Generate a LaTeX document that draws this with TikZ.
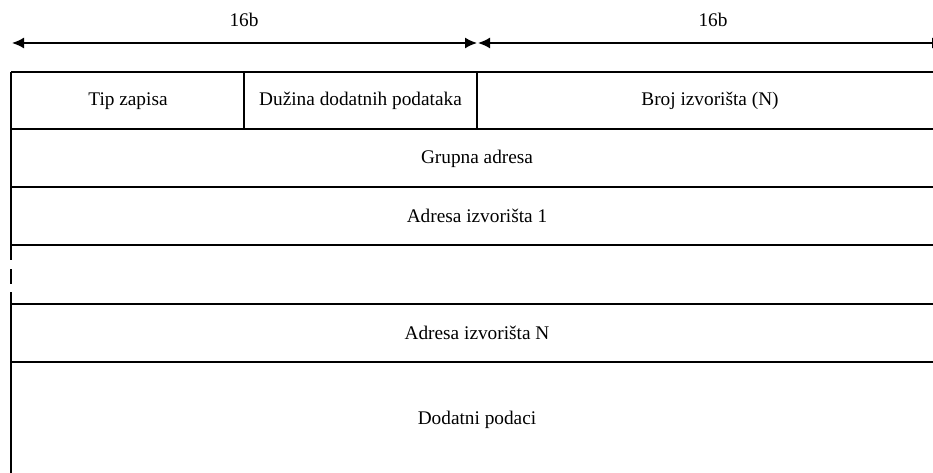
\documentclass[tikz,border=0pt]{standalone}
\usepackage{fontspec}
\setmainfont{Liberation Serif}
\usetikzlibrary{arrows.meta}
\begin{document}
\begin{tikzpicture}[x=1pt,y=-1pt,
  rule/.style={line width=1.6pt, black},
  field/.style={font=\fontsize{19.3}{22}\selectfont, inner sep=0pt, anchor=base},
  span/.style={line width=1.6pt, {Latex[length=12pt,width=11pt]}-{Latex[length=12pt,width=11pt]}}]
\useasboundingbox (0,0) rectangle (933,473);
\clip (0,0) rectangle (933,473);

% bit-width markers
\coordinate (s0) at (12,43);
\coordinate (s1) at (477,43);
\coordinate (s2) at (478,43);
\coordinate (s3) at (944,43);
\draw[span] (s0) -- (s1);
\draw[span] (s2) -- (s3);
\node[field] (w1) at (244,27) {16b};
\node[field] (w2) at (713,27) {16b};

% horizontal rules of the record
\foreach \y in {72,129,187,245,304,362}
  \draw[rule] (11,\y) -- (943,\y);

% outer edges (left edge broken where rows are omitted)
\draw[rule] (11,72) -- (11,260);
\draw[rule] (11,269) -- (11,284);
\draw[rule] (11,292) -- (11,480);
\draw[rule] (943,72) -- (943,480);

% first-row dividers
\draw[rule] (244,72) -- (244,129);
\draw[rule] (477,72) -- (477,129);

% field labels
\node[field] (tip)   at (128,106)   {Tip zapisa};
\node[field] (duz)   at (360.5,106) {Dužina dodatnih podataka};
\node[field] (broj)  at (710,106)   {Broj izvorišta (N)};
\node[field] (grupa) at (477,164)   {Grupna adresa};
\node[field] (adr1)  at (477,222)   {Adresa izvorišta 1};
\node[field] (adrN)  at (477,339)   {Adresa izvorišta N};
\node[field] (dod)   at (477,424)   {Dodatni podaci};
\end{tikzpicture}
\end{document}
